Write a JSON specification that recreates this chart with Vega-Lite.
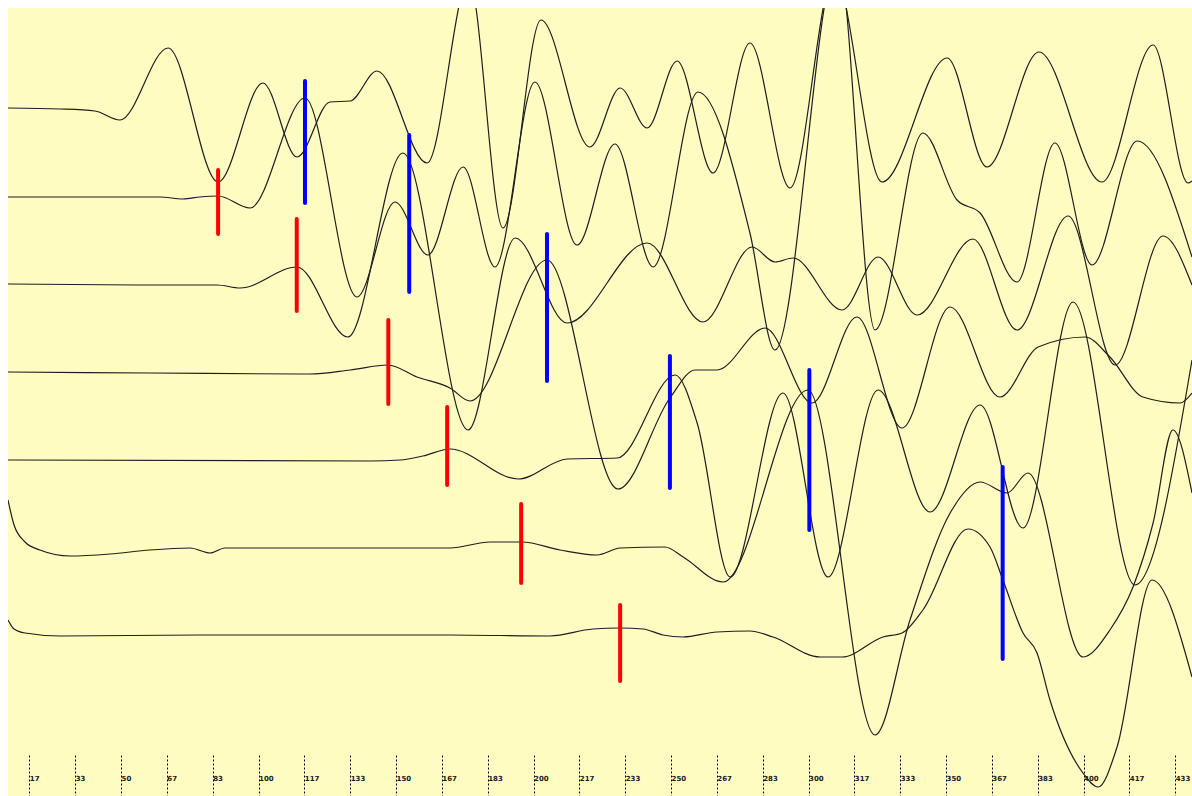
{
  "$schema": "https://vega.github.io/schema/vega-lite/v6.json",
  "width": 1184,
  "height": 788,
  "autosize": {"type": "none"},
  "padding": {"left": 8, "top": 8, "right": 0, "bottom": 0},
  "background": "#ffffff",
  "config": {"view": {"fill": "#FFFCC2", "stroke": null}},
  "datasets": {
    "traces": [
      {"trace": 1, "t": 8.9, "offset": 88}, {"trace": 1, "t": 27.8, "offset": 89}, {"trace": 1, "t": 40.5, "offset": 91},
      {"trace": 1, "t": 49.6, "offset": 100}, {"trace": 1, "t": 67.1, "offset": 28}, {"trace": 1, "t": 85.3, "offset": 162},
      {"trace": 1, "t": 101.6, "offset": 63}, {"trace": 1, "t": 114.0, "offset": 137}, {"trace": 1, "t": 126.0, "offset": 82},
      {"trace": 1, "t": 133.3, "offset": 81}, {"trace": 1, "t": 143.1, "offset": 51}, {"trace": 1, "t": 161.3, "offset": 143},
      {"trace": 1, "t": 176.5, "offset": -40}, {"trace": 1, "t": 188.9, "offset": 208}, {"trace": 1, "t": 202.7, "offset": 0},
      {"trace": 1, "t": 220.5, "offset": 127}, {"trace": 1, "t": 231.5, "offset": 68}, {"trace": 1, "t": 241.3, "offset": 108},
      {"trace": 1, "t": 252.2, "offset": 41}, {"trace": 1, "t": 265.3, "offset": 153}, {"trace": 1, "t": 278.7, "offset": 23},
      {"trace": 1, "t": 293.3, "offset": 168}, {"trace": 1, "t": 309.3, "offset": -45}, {"trace": 1, "t": 326.7, "offset": 162},
      {"trace": 1, "t": 350.4, "offset": 38}, {"trace": 1, "t": 364.9, "offset": 147}, {"trace": 1, "t": 383.8, "offset": 32},
      {"trace": 1, "t": 406.7, "offset": 162}, {"trace": 1, "t": 425.3, "offset": 25}, {"trace": 1, "t": 438.0, "offset": 163},
      {"trace": 1, "t": 439.45, "offset": 161},

      {"trace": 2, "t": 8.9, "offset": 177}, {"trace": 2, "t": 64.2, "offset": 177}, {"trace": 2, "t": 72.5, "offset": 179},
      {"trace": 2, "t": 78.7, "offset": 177}, {"trace": 2, "t": 85.3, "offset": 176}, {"trace": 2, "t": 96.9, "offset": 188},
      {"trace": 2, "t": 116.9, "offset": 78}, {"trace": 2, "t": 135.8, "offset": 277}, {"trace": 2, "t": 149.6, "offset": 182},
      {"trace": 2, "t": 161.6, "offset": 235}, {"trace": 2, "t": 174.4, "offset": 147}, {"trace": 2, "t": 186.0, "offset": 247},
      {"trace": 2, "t": 200.5, "offset": 62}, {"trace": 2, "t": 215.8, "offset": 225}, {"trace": 2, "t": 229.6, "offset": 124},
      {"trace": 2, "t": 243.5, "offset": 247}, {"trace": 2, "t": 259.8, "offset": 72}, {"trace": 2, "t": 278.7, "offset": 213},
      {"trace": 2, "t": 287.8, "offset": 330}, {"trace": 2, "t": 310.7, "offset": -60}, {"trace": 2, "t": 324.2, "offset": 310},
      {"trace": 2, "t": 341.6, "offset": 113}, {"trace": 2, "t": 354.0, "offset": 180}, {"trace": 2, "t": 362.4, "offset": 193},
      {"trace": 2, "t": 375.8, "offset": 262}, {"trace": 2, "t": 389.6, "offset": 123}, {"trace": 2, "t": 403.1, "offset": 245},
      {"trace": 2, "t": 419.5, "offset": 121}, {"trace": 2, "t": 439.45, "offset": 237},

      {"trace": 3, "t": 8.9, "offset": 264}, {"trace": 3, "t": 60.5, "offset": 265}, {"trace": 3, "t": 84.9, "offset": 265},
      {"trace": 3, "t": 93.3, "offset": 268}, {"trace": 3, "t": 114.0, "offset": 247}, {"trace": 3, "t": 132.5, "offset": 317},
      {"trace": 3, "t": 152.5, "offset": 133}, {"trace": 3, "t": 176.2, "offset": 410}, {"trace": 3, "t": 193.3, "offset": 218},
      {"trace": 3, "t": 212.2, "offset": 303}, {"trace": 3, "t": 241.3, "offset": 223}, {"trace": 3, "t": 261.6, "offset": 302},
      {"trace": 3, "t": 279.5, "offset": 227}, {"trace": 3, "t": 287.8, "offset": 242}, {"trace": 3, "t": 294.4, "offset": 238},
      {"trace": 3, "t": 312.2, "offset": 290}, {"trace": 3, "t": 325.3, "offset": 237}, {"trace": 3, "t": 339.5, "offset": 295},
      {"trace": 3, "t": 359.8, "offset": 219}, {"trace": 3, "t": 375.8, "offset": 310}, {"trace": 3, "t": 394.4, "offset": 196},
      {"trace": 3, "t": 411.5, "offset": 345}, {"trace": 3, "t": 428.9, "offset": 216}, {"trace": 3, "t": 439.45, "offset": 265},

      {"trace": 4, "t": 8.9, "offset": 352}, {"trace": 4, "t": 60.5, "offset": 353}, {"trace": 4, "t": 118.7, "offset": 354},
      {"trace": 4, "t": 133.3, "offset": 350}, {"trace": 4, "t": 147.1, "offset": 345}, {"trace": 4, "t": 157.6, "offset": 357},
      {"trace": 4, "t": 169.6, "offset": 368}, {"trace": 4, "t": 176.9, "offset": 381}, {"trace": 4, "t": 204.9, "offset": 240},
      {"trace": 4, "t": 230.7, "offset": 469}, {"trace": 4, "t": 249.6, "offset": 378}, {"trace": 4, "t": 258.7, "offset": 350},
      {"trace": 4, "t": 266.7, "offset": 350}, {"trace": 4, "t": 284.2, "offset": 308}, {"trace": 4, "t": 301.3, "offset": 383},
      {"trace": 4, "t": 317.6, "offset": 297}, {"trace": 4, "t": 334.0, "offset": 408}, {"trace": 4, "t": 351.5, "offset": 287},
      {"trace": 4, "t": 369.6, "offset": 377}, {"trace": 4, "t": 383.5, "offset": 327}, {"trace": 4, "t": 400.5, "offset": 317},
      {"trace": 4, "t": 409.6, "offset": 337}, {"trace": 4, "t": 421.6, "offset": 377}, {"trace": 4, "t": 435.1, "offset": 383},
      {"trace": 4, "t": 439.45, "offset": 373},

      {"trace": 5, "t": 8.9, "offset": 440}, {"trace": 5, "t": 140.5, "offset": 441}, {"trace": 5, "t": 151.5, "offset": 440},
      {"trace": 5, "t": 159.8, "offset": 436}, {"trace": 5, "t": 169.6, "offset": 429}, {"trace": 5, "t": 194.4, "offset": 459},
      {"trace": 5, "t": 212.2, "offset": 439}, {"trace": 5, "t": 230.4, "offset": 438}, {"trace": 5, "t": 251.5, "offset": 355},
      {"trace": 5, "t": 259.5, "offset": 403}, {"trace": 5, "t": 271.5, "offset": 557}, {"trace": 5, "t": 290.7, "offset": 373},
      {"trace": 5, "t": 307.1, "offset": 557}, {"trace": 5, "t": 325.3, "offset": 370}, {"trace": 5, "t": 344.2, "offset": 492},
      {"trace": 5, "t": 362.4, "offset": 385}, {"trace": 5, "t": 378.0, "offset": 508}, {"trace": 5, "t": 396.2, "offset": 282},
      {"trace": 5, "t": 418.7, "offset": 565}, {"trace": 5, "t": 439.45, "offset": 340},

      {"trace": 6, "t": 8.9, "offset": 480}, {"trace": 6, "t": 11.1, "offset": 505}, {"trace": 6, "t": 15.1, "offset": 522},
      {"trace": 6, "t": 20.5, "offset": 530}, {"trace": 6, "t": 31.5, "offset": 536}, {"trace": 6, "t": 46.0, "offset": 534},
      {"trace": 6, "t": 60.5, "offset": 530}, {"trace": 6, "t": 75.1, "offset": 528}, {"trace": 6, "t": 82.4, "offset": 533},
      {"trace": 6, "t": 87.8, "offset": 528}, {"trace": 6, "t": 169.6, "offset": 528}, {"trace": 6, "t": 184.2, "offset": 522},
      {"trace": 6, "t": 195.8, "offset": 522}, {"trace": 6, "t": 209.6, "offset": 530}, {"trace": 6, "t": 223.1, "offset": 535},
      {"trace": 6, "t": 231.5, "offset": 528}, {"trace": 6, "t": 247.8, "offset": 527}, {"trace": 6, "t": 254.4, "offset": 537},
      {"trace": 6, "t": 268.9, "offset": 562}, {"trace": 6, "t": 299.8, "offset": 370}, {"trace": 6, "t": 324.2, "offset": 715},
      {"trace": 6, "t": 336.9, "offset": 600}, {"trace": 6, "t": 351.5, "offset": 493}, {"trace": 6, "t": 362.4, "offset": 462},
      {"trace": 6, "t": 372.2, "offset": 473}, {"trace": 6, "t": 379.8, "offset": 453}, {"trace": 6, "t": 399.8, "offset": 637},
      {"trace": 6, "t": 409.6, "offset": 610}, {"trace": 6, "t": 418.0, "offset": 567}, {"trace": 6, "t": 425.3, "offset": 503},
      {"trace": 6, "t": 432.5, "offset": 410}, {"trace": 6, "t": 439.45, "offset": 473},

      {"trace": 7, "t": 8.9, "offset": 600}, {"trace": 7, "t": 11.1, "offset": 609}, {"trace": 7, "t": 15.1, "offset": 613},
      {"trace": 7, "t": 27.8, "offset": 616}, {"trace": 7, "t": 78.7, "offset": 615}, {"trace": 7, "t": 169.6, "offset": 615},
      {"trace": 7, "t": 206.0, "offset": 616}, {"trace": 7, "t": 221.6, "offset": 609}, {"trace": 7, "t": 231.5, "offset": 608},
      {"trace": 7, "t": 239.8, "offset": 609}, {"trace": 7, "t": 247.1, "offset": 615}, {"trace": 7, "t": 254.4, "offset": 617},
      {"trace": 7, "t": 266.7, "offset": 612}, {"trace": 7, "t": 278.7, "offset": 611}, {"trace": 7, "t": 287.1, "offset": 617},
      {"trace": 7, "t": 304.2, "offset": 637}, {"trace": 7, "t": 312.2, "offset": 637}, {"trace": 7, "t": 327.1, "offset": 617},
      {"trace": 7, "t": 334.0, "offset": 613}, {"trace": 7, "t": 341.6, "offset": 590}, {"trace": 7, "t": 358.0, "offset": 509},
      {"trace": 7, "t": 366.0, "offset": 527}, {"trace": 7, "t": 370.7, "offset": 560}, {"trace": 7, "t": 378.0, "offset": 613},
      {"trace": 7, "t": 383.1, "offset": 633}, {"trace": 7, "t": 387.8, "offset": 680}, {"trace": 7, "t": 399.8, "offset": 753},
      {"trace": 7, "t": 405.3, "offset": 767}, {"trace": 7, "t": 412.2, "offset": 727}, {"trace": 7, "t": 424.9, "offset": 560},
      {"trace": 7, "t": 439.45, "offset": 657}
    ],
    "picks": [
      {"phase": "P", "t": 85.3, "top": 150, "bottom": 214},
      {"phase": "P", "t": 113.9, "top": 199, "bottom": 291},
      {"phase": "P", "t": 147.2, "top": 300, "bottom": 384},
      {"phase": "P", "t": 168.6, "top": 387, "bottom": 465},
      {"phase": "P", "t": 195.5, "top": 484, "bottom": 563},
      {"phase": "P", "t": 231.5, "top": 585, "bottom": 661},
      {"phase": "S", "t": 116.9, "top": 61, "bottom": 183},
      {"phase": "S", "t": 154.8, "top": 115, "bottom": 272},
      {"phase": "S", "t": 204.9, "top": 214, "bottom": 361},
      {"phase": "S", "t": 249.6, "top": 336, "bottom": 468},
      {"phase": "S", "t": 300.3, "top": 350, "bottom": 510},
      {"phase": "S", "t": 370.6, "top": 447, "bottom": 639}
    ]
  },
  "encoding": {
    "x": {
      "field": "t",
      "type": "quantitative",
      "scale": {"domain": [8.9, 439.45], "nice": false, "zero": false},
      "axis": {
        "title": null,
        "values": [16.6667, 33.3333, 50, 66.6667, 83.3333, 100, 116.6667, 133.3333, 150, 166.6667, 183.3333, 200, 216.6667, 233.3333, 250, 266.6667, 283.3333, 300, 316.6667, 333.3333, 350, 366.6667, 383.3333, 400, 416.6667, 433.3333],
        "format": ".0f",
        "offset": -41,
        "domain": false,
        "grid": false,
        "ticks": true,
        "tickSize": 41,
        "tickDash": [2, 2],
        "tickColor": "#000000",
        "tickWidth": 1,
        "labels": true,
        "labelPadding": -18,
        "labelAlign": "left",
        "labelBaseline": "middle",
        "labelDx": 1,
        "labelFont": "DejaVu Sans",
        "labelFontSize": 7,
        "labelFontWeight": "bold",
        "labelColor": "#1a1a1a",
        "labelOverlap": false,
        "labelFlush": false
      }
    }
  },
  "layer": [
    {
      "data": {"name": "traces"},
      "mark": {"type": "line", "interpolate": "monotone", "clip": true, "color": "#1e1e1e", "strokeWidth": 1.2},
      "encoding": {
        "y": {
          "field": "offset",
          "type": "quantitative",
          "scale": {"domain": [-12, 776], "reverse": true, "nice": false, "zero": false},
          "axis": null
        },
        "detail": {"field": "trace", "type": "nominal"}
      }
    },
    {
      "data": {"name": "picks"},
      "mark": {"type": "rule", "strokeWidth": 4, "strokeCap": "round"},
      "encoding": {
        "y": {"field": "top", "type": "quantitative", "scale": {"domain": [-12, 776], "reverse": true, "nice": false, "zero": false}, "axis": null},
        "y2": {"field": "bottom"},
        "color": {"field": "phase", "type": "nominal", "scale": {"domain": ["P", "S"], "range": ["#ff0000", "#0000ff"]}, "legend": null}
      }
    }
  ]
}
